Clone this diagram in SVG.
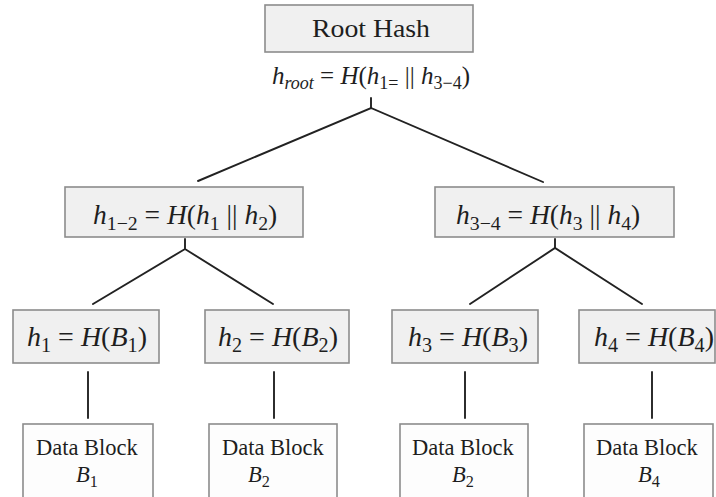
<svg xmlns="http://www.w3.org/2000/svg" width="716" height="497" viewBox="0 0 716 497" font-family="'Liberation Serif', 'Times New Roman', serif">
  <style>
    text { font-family: 'Liberation Serif', 'Times New Roman', serif; fill: #1e1e1e; }
    .hash { fill: #f0f0f0; stroke: #8c8c8c; stroke-width: 1.6; }
    .data { fill: #fdfdfd; stroke: #8c8c8c; stroke-width: 1.6; }
    .edge { stroke: #222; stroke-width: 1.9; fill: none; stroke-linecap: round; }
    .i { font-style: italic; }
    .sub { font-size: 0.72em; }
    .title { font-size: 26px; }
    .f-root { font-size: 25px; }
    .f-mid { font-size: 27.5px; }
    .f-leaf { font-size: 28px; }
    .f-data { font-size: 22.5px; }
  </style>
  <rect x="0" y="0" width="716" height="497" fill="#ffffff"/>

  <!-- connectors -->
  <g id="connectors">
    <path class="edge" d="M371,98 V108 M198,181 L371,108 L543,182"/>
    <path class="edge" d="M185,239 V249 M93,304 L185,249 L273,304"/>
    <path class="edge" d="M555,239 V248 M470,304 L555,248 L642,304"/>
    <path class="edge" d="M88,372 V418"/>
    <path class="edge" d="M274,372 V418"/>
    <path class="edge" d="M465,372 V418"/>
    <path class="edge" d="M652,372 V418"/>
  </g>

  <!-- root -->
  <g id="root">
    <rect class="hash" x="265" y="5" width="208" height="47"/>
    <text class="title" x="312" y="37" textLength="118" lengthAdjust="spacingAndGlyphs">Root Hash</text>
    <text class="f-root" x="272" y="84"><tspan class="i">h</tspan><tspan class="sub i" dy="5">root</tspan><tspan dy="-5"> = </tspan><tspan class="i">H</tspan><tspan>(</tspan><tspan class="i">h</tspan><tspan class="sub" dy="5">1=</tspan><tspan dy="-5"> || </tspan><tspan class="i">h</tspan><tspan class="sub" dy="5">3−4</tspan><tspan dy="-5">)</tspan></text>
  </g>

  <!-- level 2 -->
  <g id="h12">
    <rect class="hash" x="65" y="187" width="238" height="50"/>
    <text class="f-mid" x="93" y="224"><tspan class="i">h</tspan><tspan class="sub" dy="6">1−2</tspan><tspan dy="-6"> = </tspan><tspan class="i">H</tspan><tspan>(</tspan><tspan class="i">h</tspan><tspan class="sub" dy="6">1</tspan><tspan dy="-6"> || </tspan><tspan class="i">h</tspan><tspan class="sub" dy="6">2</tspan><tspan dy="-6">)</tspan></text>
  </g>
  <g id="h34">
    <rect class="hash" x="435" y="187" width="239" height="50"/>
    <text class="f-mid" x="456" y="224"><tspan class="i">h</tspan><tspan class="sub" dy="6">3−4</tspan><tspan dy="-6"> = </tspan><tspan class="i">H</tspan><tspan>(</tspan><tspan class="i">h</tspan><tspan class="sub" dy="6">3</tspan><tspan dy="-6"> || </tspan><tspan class="i">h</tspan><tspan class="sub" dy="6">4</tspan><tspan dy="-6">)</tspan></text>
  </g>

  <!-- level 3 -->
  <g id="h1">
    <rect class="hash" x="13" y="310" width="146" height="53"/>
    <text class="f-leaf" x="27" y="346"><tspan class="i">h</tspan><tspan class="sub" dy="6">1</tspan><tspan dy="-6"> = </tspan><tspan class="i">H</tspan><tspan>(</tspan><tspan class="i">B</tspan><tspan class="sub" dy="6">1</tspan><tspan dy="-6">)</tspan></text>
  </g>
  <g id="h2">
    <rect class="hash" x="205" y="310" width="144" height="53"/>
    <text class="f-leaf" x="218" y="346"><tspan class="i">h</tspan><tspan class="sub" dy="6">2</tspan><tspan dy="-6"> = </tspan><tspan class="i">H</tspan><tspan>(</tspan><tspan class="i">B</tspan><tspan class="sub" dy="6">2</tspan><tspan dy="-6">)</tspan></text>
  </g>
  <g id="h3">
    <rect class="hash" x="392" y="310" width="146" height="53"/>
    <text class="f-leaf" x="408" y="346"><tspan class="i">h</tspan><tspan class="sub" dy="6">3</tspan><tspan dy="-6"> = </tspan><tspan class="i">H</tspan><tspan>(</tspan><tspan class="i">B</tspan><tspan class="sub" dy="6">3</tspan><tspan dy="-6">)</tspan></text>
  </g>
  <g id="h4">
    <rect class="hash" x="579" y="310" width="136" height="53"/>
    <text class="f-leaf" x="594" y="346"><tspan class="i">h</tspan><tspan class="sub" dy="6">4</tspan><tspan dy="-6"> = </tspan><tspan class="i">H</tspan><tspan>(</tspan><tspan class="i">B</tspan><tspan class="sub" dy="6">4</tspan><tspan dy="-6">)</tspan></text>
  </g>

  <!-- data blocks -->
  <g id="b1">
    <rect class="data" x="23" y="424" width="130" height="80"/>
    <text class="f-data" x="36" y="455">Data Block</text>
    <text class="f-data" x="76" y="482"><tspan class="i">B</tspan><tspan class="sub" dy="5">1</tspan></text>
  </g>
  <g id="b2">
    <rect class="data" x="209" y="424" width="128" height="80"/>
    <text class="f-data" x="222" y="455">Data Block</text>
    <text class="f-data" x="248" y="482"><tspan class="i">B</tspan><tspan class="sub" dy="5">2</tspan></text>
  </g>
  <g id="b3">
    <rect class="data" x="400" y="424" width="128" height="80"/>
    <text class="f-data" x="412" y="455">Data Block</text>
    <text class="f-data" x="452" y="482"><tspan class="i">B</tspan><tspan class="sub" dy="5">2</tspan></text>
  </g>
  <g id="b4">
    <rect class="data" x="584" y="424" width="129" height="80"/>
    <text class="f-data" x="596" y="455">Data Block</text>
    <text class="f-data" x="638" y="482"><tspan class="i">B</tspan><tspan class="sub" dy="5">4</tspan></text>
  </g>
</svg>
